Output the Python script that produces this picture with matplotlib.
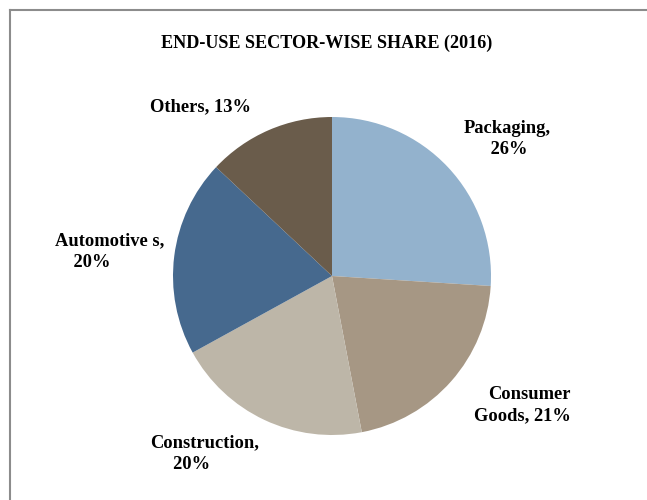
import matplotlib
matplotlib.use("Agg")
import matplotlib.pyplot as plt
from matplotlib.lines import Line2D

# data
sectors = ["Packaging", "Consumer Goods", "Construction", "Automotive s", "Others"]
shares = [26, 21, 20, 20, 13]
colors = ["#93B2CD", "#A69784", "#BDB6A8", "#46698E", "#6A5C4B"]

W, H = 647, 500
fig = plt.figure(figsize=(W / 100, H / 100), dpi=100)
plt.rcParams["font.family"] = ["Liberation Serif", "DejaVu Serif"]

# pie axes, centre and radius (pixels)
cx, cy, r = 332, 276, 159
ax = fig.add_axes([(cx - r) / W, (H - cy - r) / H, 2 * r / W, 2 * r / H])
ax.pie(shares, colors=colors, startangle=90, counterclock=False,
       radius=1, wedgeprops=dict(linewidth=0))
ax.set_xlim(-1, 1)
ax.set_ylim(-1, 1)
ax.set_aspect("equal")
ax.axis("off")

# title
fig.text(327 / W, 1 - 43 / H, "END-USE SECTOR-WISE SHARE (2016)",
         ha="center", va="center", fontsize=13.1, fontweight="bold")

# labels
def px(x, y):
    return x / W, 1 - y / H

lab = dict(fontsize=13.3, fontweight="bold", va="center", linespacing=1.35)
fig.text(*px(507, 139), f"{sectors[0]},\n {shares[0]}%", ha="center", ma="center", **lab)
fig.text(*px(571, 405), f"Consumer\nGoods, {shares[1]}%", ha="right", ma="right", **lab)
fig.text(*px(150, 454), f"{sectors[2]},\n     {shares[2]}%", ha="left", ma="left", **lab)
fig.text(*px(55, 252), f"{sectors[3]},\n    {shares[3]}%", ha="left", ma="left", **lab)
fig.text(*px(200, 107), f"{sectors[4]}, {shares[4]}%", ha="center", **lab)

# frame lines at top and left
fig.add_artist(Line2D([10 / W, 10 / W], [0, 1 - 10 / H], color="#8c8c8c", lw=1.5))
fig.add_artist(Line2D([10 / W, 1], [1 - 10 / H, 1 - 10 / H], color="#8c8c8c", lw=1.5))

fig.savefig("out.png", dpi=100)
